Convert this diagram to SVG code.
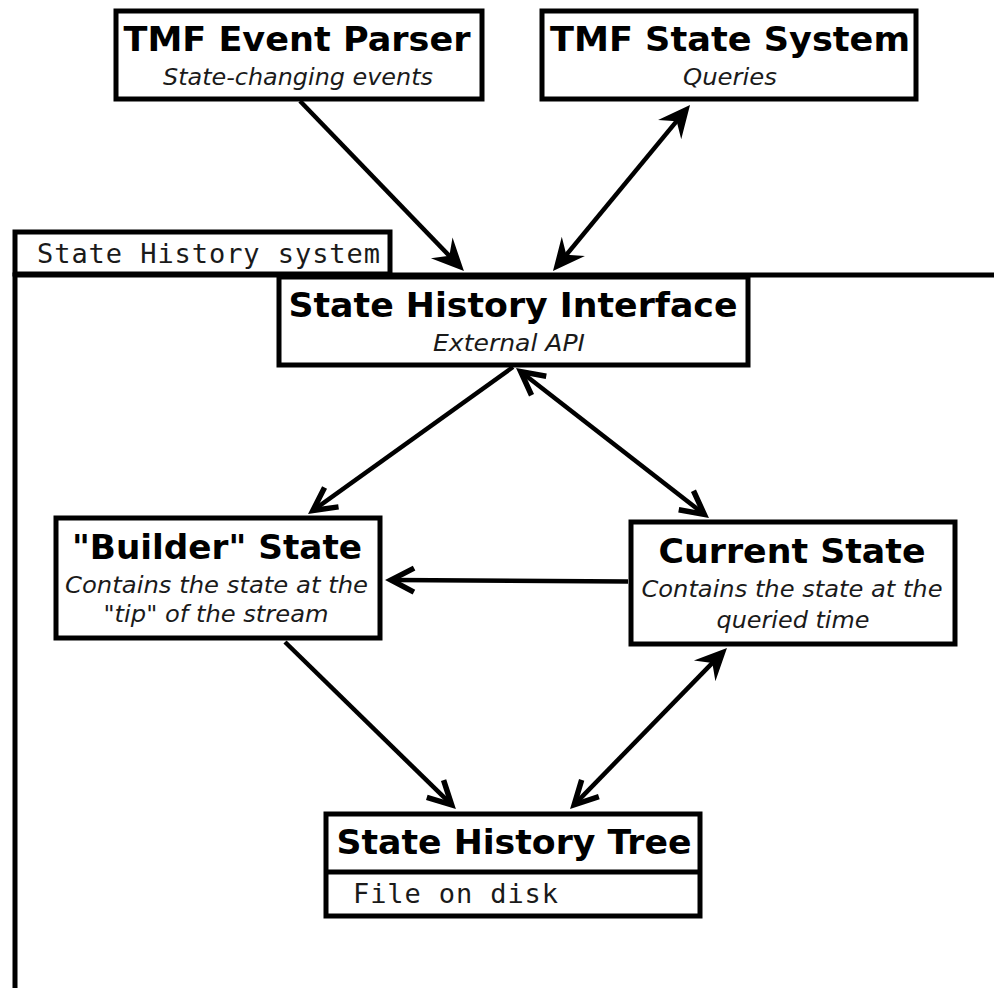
<svg xmlns="http://www.w3.org/2000/svg" width="994" height="988" viewBox="0 0 994 988">
<style>
.box{fill:#fff;stroke:#000;stroke-width:5}
.t{font-family:"DejaVu Sans",Verdana,sans-serif;font-weight:bold;font-size:33px;text-anchor:middle;fill:#000}
.s{font-family:"DejaVu Sans",Verdana,sans-serif;font-style:italic;font-size:23px;text-anchor:middle;fill:#1a1a1a}
.m{font-family:"DejaVu Sans Mono","Liberation Mono",monospace;font-size:27px;fill:#1a1a1a}
.ln{fill:none;stroke:#000;stroke-width:4.5}
</style>
<defs>
<marker id="fa" markerUnits="userSpaceOnUse" orient="auto-start-reverse" refX="0" refY="0" markerWidth="60" markerHeight="60" viewBox="-30 -30 60 60" overflow="visible">
<path d="M9,0 L-23,-15 L-12,0 L-23,15 Z" fill="#000"/>
</marker>
<marker id="oa" markerUnits="userSpaceOnUse" orient="auto-start-reverse" refX="0" refY="0" markerWidth="60" markerHeight="60" viewBox="-30 -30 60 60" overflow="visible">
<path d="M-20,-12 L3,0 L-20,12" fill="none" stroke="#000" stroke-width="5.5" stroke-linejoin="miter" stroke-miterlimit="10"/>
</marker>
</defs>

<g id="container">
<rect x="15" y="275" width="1000" height="800" fill="none" stroke="#000" stroke-width="5"/>
<rect x="15" y="232" width="375" height="42" class="box"/>
<text x="37" y="263" class="m" textLength="343" lengthAdjust="spacing">State History system</text>
</g>

<g id="event-parser">
<rect x="116" y="11" width="366" height="88" class="box"/>
<text x="297" y="51" class="t" textLength="347" lengthAdjust="spacingAndGlyphs">TMF Event Parser</text>
<text x="298" y="85" class="s" textLength="270" lengthAdjust="spacingAndGlyphs">State-changing events</text>
</g>

<g id="state-system">
<rect x="542" y="11" width="374" height="88" class="box"/>
<text x="730" y="51" class="t" textLength="360" lengthAdjust="spacingAndGlyphs">TMF State System</text>
<text x="730" y="85" class="s" textLength="94" lengthAdjust="spacingAndGlyphs">Queries</text>
</g>

<g id="shi">
<rect x="279" y="277" width="469" height="88" class="box"/>
<text x="513" y="317" class="t" textLength="449" lengthAdjust="spacingAndGlyphs">State History Interface</text>
<text x="509" y="351" class="s" textLength="152" lengthAdjust="spacingAndGlyphs">External API</text>
</g>

<g id="builder">
<rect x="56" y="518" width="324" height="120" class="box"/>
<text x="217" y="559" class="t" textLength="290" lengthAdjust="spacingAndGlyphs">"Builder" State</text>
<text x="216.5" y="593" class="s" textLength="303" lengthAdjust="spacingAndGlyphs">Contains the state at the</text>
<text x="216" y="622" class="s" textLength="225" lengthAdjust="spacingAndGlyphs">"tip" of the stream</text>
</g>

<g id="current">
<rect x="631" y="522" width="324" height="122" class="box"/>
<text x="792" y="563" class="t" textLength="267" lengthAdjust="spacingAndGlyphs">Current State</text>
<text x="792" y="597" class="s" textLength="301" lengthAdjust="spacingAndGlyphs">Contains the state at the</text>
<text x="793" y="628" class="s" textLength="153" lengthAdjust="spacingAndGlyphs">queried time</text>
</g>

<g id="sht">
<rect x="326" y="814" width="374" height="102" class="box"/>
<line x1="326" y1="872" x2="700" y2="872" stroke="#000" stroke-width="5"/>
<text x="514" y="854" class="t" textLength="355" lengthAdjust="spacingAndGlyphs">State History Tree</text>
<text x="353" y="903" class="m" textLength="205" lengthAdjust="spacing">File on disk</text>
</g>

<g id="connectors">
<path class="ln" d="M300,101 L457.7,264.5" marker-end="url(#fa)"/>
<path class="ln" d="M684.3,111.9 L558.7,264.1" marker-start="url(#fa)" marker-end="url(#fa)"/>
<path class="ln" d="M513,367 L315.3,508.8" marker-end="url(#oa)"/>
<path class="ln" d="M523.1,373.5 L701.9,512.5" marker-start="url(#oa)" marker-end="url(#oa)"/>
<path class="ln" d="M628,581.5 L394,580" marker-end="url(#oa)"/>
<path class="ln" d="M285,642 L449.5,802.7" marker-end="url(#oa)"/>
<path class="ln" d="M720.7,654.4 L576.3,802.6" marker-start="url(#fa)" marker-end="url(#oa)"/>
</g>
</svg>
